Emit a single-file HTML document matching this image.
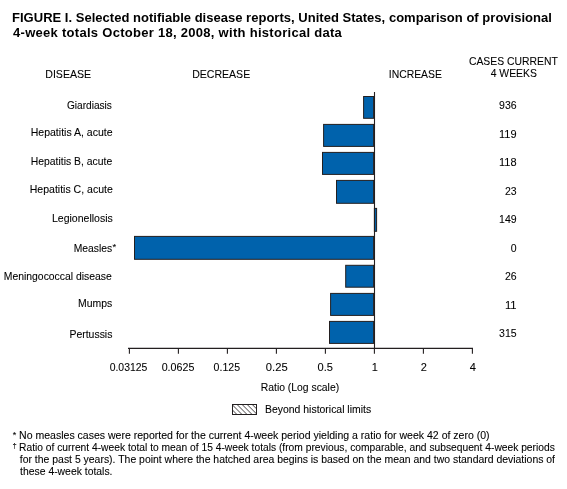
<!DOCTYPE html>
<html><head><meta charset="utf-8"><style>
html,body{margin:0;padding:0;background:#fff;}
svg{display:block;will-change:transform;}
text{font-family:"Liberation Sans", sans-serif;fill:#000;stroke:#000;stroke-width:0.08px;}
</style></head><body>
<svg width="567" height="489" viewBox="0 0 567 489">
<rect width="567" height="489" fill="#fff"/>
<rect x="363.6" y="96.5" width="10.00" height="21.80" fill="#0062ac" stroke="#231f20" stroke-width="1"/><rect x="323.6" y="124.4" width="50.00" height="22.00" fill="#0062ac" stroke="#231f20" stroke-width="1"/><rect x="322.5" y="152.4" width="51.10" height="22.00" fill="#0062ac" stroke="#231f20" stroke-width="1"/><rect x="336.5" y="180.4" width="37.10" height="22.90" fill="#0062ac" stroke="#231f20" stroke-width="1"/><rect x="374.4" y="208.4" width="2.2" height="22.90" fill="#0062ac" stroke="#231f20" stroke-width="1"/><rect x="134.5" y="236.4" width="239.10" height="22.90" fill="#0062ac" stroke="#231f20" stroke-width="1"/><rect x="345.7" y="265.3" width="27.90" height="21.90" fill="#0062ac" stroke="#231f20" stroke-width="1"/><rect x="330.6" y="293.4" width="43.00" height="22.00" fill="#0062ac" stroke="#231f20" stroke-width="1"/><rect x="329.5" y="321.4" width="44.10" height="22.00" fill="#0062ac" stroke="#231f20" stroke-width="1"/><line x1="374.5" y1="92" x2="374.5" y2="348.8" stroke="#231f20" stroke-width="1.1"/><line x1="128" y1="348.4" x2="473" y2="348.4" stroke="#231f20" stroke-width="1.1"/><line x1="129.4" y1="348" x2="129.4" y2="353.8" stroke="#231f20" stroke-width="1.1"/><line x1="178.4" y1="348" x2="178.4" y2="353.8" stroke="#231f20" stroke-width="1.1"/><line x1="227.4" y1="348" x2="227.4" y2="353.8" stroke="#231f20" stroke-width="1.1"/><line x1="276.4" y1="348" x2="276.4" y2="353.8" stroke="#231f20" stroke-width="1.1"/><line x1="325.4" y1="348" x2="325.4" y2="353.8" stroke="#231f20" stroke-width="1.1"/><line x1="374.4" y1="348" x2="374.4" y2="353.8" stroke="#231f20" stroke-width="1.1"/><line x1="423.4" y1="348" x2="423.4" y2="353.8" stroke="#231f20" stroke-width="1.1"/><line x1="472.4" y1="348" x2="472.4" y2="353.8" stroke="#231f20" stroke-width="1.1"/><defs><clipPath id="lc"><rect x="233" y="405" width="23" height="9"/></clipPath></defs><g clip-path="url(#lc)"><line x1="216.35" y1="404" x2="227.85" y2="415.5" stroke="#231f20" stroke-width="0.85"/><line x1="221.40" y1="404" x2="232.90" y2="415.5" stroke="#231f20" stroke-width="0.85"/><line x1="226.45" y1="404" x2="237.95" y2="415.5" stroke="#231f20" stroke-width="0.85"/><line x1="231.50" y1="404" x2="243.00" y2="415.5" stroke="#231f20" stroke-width="0.85"/><line x1="236.55" y1="404" x2="248.05" y2="415.5" stroke="#231f20" stroke-width="0.85"/><line x1="241.60" y1="404" x2="253.10" y2="415.5" stroke="#231f20" stroke-width="0.85"/><line x1="246.65" y1="404" x2="258.15" y2="415.5" stroke="#231f20" stroke-width="0.85"/><line x1="251.70" y1="404" x2="263.20" y2="415.5" stroke="#231f20" stroke-width="0.85"/><line x1="256.75" y1="404" x2="268.25" y2="415.5" stroke="#231f20" stroke-width="0.85"/><line x1="261.80" y1="404" x2="273.30" y2="415.5" stroke="#231f20" stroke-width="0.85"/><line x1="266.85" y1="404" x2="278.35" y2="415.5" stroke="#231f20" stroke-width="0.85"/></g><rect x="232.5" y="404.5" width="24" height="10" fill="none" stroke="#231f20" stroke-width="1"/>
<text x="12.0" y="22" font-size="13" font-weight="bold" style="stroke-width:0" textLength="539.9" lengthAdjust="spacing">FIGURE I. Selected notifiable disease reports, United States, comparison of provisional</text><text x="13.0" y="37" font-size="13" font-weight="bold" style="stroke-width:0" textLength="328.79" lengthAdjust="spacing">4-week totals October 18, 2008, with historical data</text><text x="45.24" y="78" font-size="11" textLength="45.93" lengthAdjust="spacingAndGlyphs">DISEASE</text><text x="192.14" y="78" font-size="11" textLength="58.07" lengthAdjust="spacingAndGlyphs">DECREASE</text><text x="388.75" y="78" font-size="11" textLength="53.18" lengthAdjust="spacingAndGlyphs">INCREASE</text><text x="468.9" y="65" font-size="11" textLength="88.92" lengthAdjust="spacingAndGlyphs">CASES CURRENT</text><text x="490.7" y="77" font-size="11" textLength="46.16" lengthAdjust="spacingAndGlyphs">4 WEEKS</text><text x="66.9" y="109" font-size="11" textLength="45.01" lengthAdjust="spacingAndGlyphs">Giardiasis</text><text x="516.6" y="109" font-size="11" text-anchor="end" textLength="17.53" lengthAdjust="spacingAndGlyphs">936</text><text x="30.74" y="136" font-size="11" textLength="81.84" lengthAdjust="spacingAndGlyphs">Hepatitis A, acute</text><text x="516.6" y="138" font-size="11" text-anchor="end" textLength="17.53" lengthAdjust="spacingAndGlyphs">119</text><text x="30.76" y="165" font-size="11" textLength="81.45" lengthAdjust="spacingAndGlyphs">Hepatitis B, acute</text><text x="516.6" y="166" font-size="11" text-anchor="end" textLength="17.53" lengthAdjust="spacingAndGlyphs">118</text><text x="29.74" y="193" font-size="11" textLength="83.05" lengthAdjust="spacingAndGlyphs">Hepatitis C, acute</text><text x="516.6" y="195" font-size="11" text-anchor="end" textLength="11.68" lengthAdjust="spacingAndGlyphs">23</text><text x="51.94" y="222" font-size="11" textLength="60.84" lengthAdjust="spacingAndGlyphs">Legionellosis</text><text x="516.6" y="223" font-size="11" text-anchor="end" textLength="17.53" lengthAdjust="spacingAndGlyphs">149</text><text x="73.76" y="252" font-size="11" textLength="38.41" lengthAdjust="spacingAndGlyphs">Measles</text><text x="112.4" y="250.2" font-size="9.5">*</text><text x="516.6" y="252" font-size="11" text-anchor="end" textLength="5.84" lengthAdjust="spacingAndGlyphs">0</text><text x="3.75" y="280" font-size="11" textLength="108.08" lengthAdjust="spacingAndGlyphs">Meningococcal disease</text><text x="516.6" y="280" font-size="11" text-anchor="end" textLength="11.68" lengthAdjust="spacingAndGlyphs">26</text><text x="78.05" y="307" font-size="11" textLength="34.21" lengthAdjust="spacingAndGlyphs">Mumps</text><text x="516.6" y="309" font-size="11" text-anchor="end" textLength="11.68" lengthAdjust="spacingAndGlyphs">11</text><text x="69.45" y="337.5" font-size="11" textLength="42.99" lengthAdjust="spacingAndGlyphs">Pertussis</text><text x="516.6" y="337" font-size="11" text-anchor="end" textLength="17.53" lengthAdjust="spacingAndGlyphs">315</text><text x="109.7" y="371" font-size="11" textLength="37.62" lengthAdjust="spacingAndGlyphs">0.03125</text><text x="161.7" y="371" font-size="11" textLength="32.64" lengthAdjust="spacingAndGlyphs">0.0625</text><text x="213.6" y="371" font-size="11" textLength="26.41" lengthAdjust="spacingAndGlyphs">0.125</text><text x="265.8" y="371" font-size="11" textLength="21.83" lengthAdjust="spacingAndGlyphs">0.25</text><text x="317.6" y="371" font-size="11" textLength="15.4" lengthAdjust="spacingAndGlyphs">0.5</text><text x="374.8" y="371" font-size="11" text-anchor="middle">1</text><text x="423.8" y="371" font-size="11" text-anchor="middle">2</text><text x="472.8" y="371" font-size="11" text-anchor="middle">4</text><text x="260.76" y="391" font-size="11" textLength="78.39" lengthAdjust="spacingAndGlyphs">Ratio (Log scale)</text><text x="265.05" y="413" font-size="11" textLength="106.08" lengthAdjust="spacingAndGlyphs">Beyond historical limits</text><text x="12.8" y="438.3" font-size="9">*</text><text x="19.05" y="439" font-size="10" textLength="470.59" lengthAdjust="spacingAndGlyphs">No measles cases were reported for the current 4-week period yielding a ratio for week 42 of zero (0)</text><text x="12.6" y="448" font-size="7.5">†</text><text x="19.07" y="451" font-size="10" textLength="535.74" lengthAdjust="spacingAndGlyphs">Ratio of current 4-week total to mean of 15 4-week totals (from previous, comparable, and subsequent 4-week periods</text><text x="19.8" y="463" font-size="10" textLength="535.22" lengthAdjust="spacingAndGlyphs">for the past 5 years). The point where the hatched area begins is based on the mean and two standard deviations of</text><text x="20.1" y="475" font-size="10" textLength="92.37" lengthAdjust="spacingAndGlyphs">these 4-week totals.</text>
</svg>
</body></html>
